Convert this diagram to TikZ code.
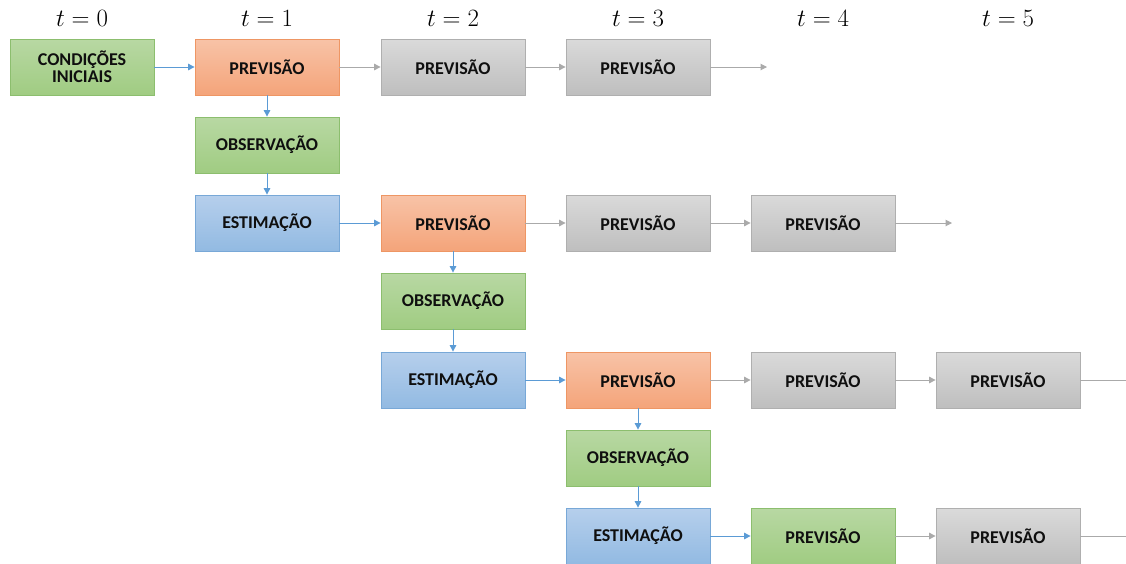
\documentclass[tikz,border=0pt]{standalone}
\usepackage{fontspec}
\setsansfont{Carlito}
\usetikzlibrary{arrows.meta}
\definecolor{gTop}{RGB}{184,216,163}
\definecolor{gBot}{RGB}{160,204,130}
\definecolor{gLine}{RGB}{140,190,110}
\definecolor{oTop}{RGB}{248,195,167}
\definecolor{oBot}{RGB}{244,164,122}
\definecolor{oLine}{RGB}{238,150,100}
\definecolor{bTop}{RGB}{182,207,236}
\definecolor{bBot}{RGB}{146,186,226}
\definecolor{bLine}{RGB}{120,168,215}
\definecolor{yTop}{RGB}{218,218,218}
\definecolor{yBot}{RGB}{190,190,190}
\definecolor{yLine}{RGB}{175,175,175}
\definecolor{arrBlue}{RGB}{91,155,213}
\definecolor{arrGray}{RGB}{170,170,170}
\definecolor{txt}{RGB}{15,15,15}
\begin{document}
\begin{tikzpicture}[x=1pt,y=-1pt,
  box/.style={minimum width=144pt,minimum height=56pt,inner sep=0pt,line width=0.8pt,
    align=center,font=\sffamily\bfseries\fontsize{18}{20}\selectfont,text=txt},
  gbox/.style={box,draw=gLine,top color=gTop,bottom color=gBot},
  obox/.style={box,draw=oLine,top color=oTop,bottom color=oBot},
  bbox/.style={box,draw=bLine,top color=bTop,bottom color=bBot},
  ybox/.style={box,draw=yLine,top color=yTop,bottom color=yBot},
  barr/.style={draw=arrBlue,line width=1pt,-{Triangle[width=6.5pt,length=6.5pt]}},
  garr/.style={draw=arrGray,line width=1pt,-{Triangle[width=6.5pt,length=6.5pt]}},
  gline/.style={draw=arrGray,line width=1pt},
  tlab/.style={font=\fontsize{25}{29}\selectfont,inner sep=0pt}]
\useasboundingbox (0,0) rectangle (1126,563);
% time labels
\node[tlab] (t0) at (82,18) {$t=0$};
\node[tlab] (t1) at (267,18) {$t=1$};
\node[tlab] (t2) at (453,18) {$t=2$};
\node[tlab] (t3) at (638,18) {$t=3$};
\node[tlab] (t4) at (823,18) {$t=4$};
\node[tlab] (t5) at (1008,18) {$t=5$};
% row 1
\node[gbox] (ci) at (82,67) {CONDIÇÕES\\[-3pt]INICIAIS};
\node[obox] (p11) at (267,67) {PREVISÃO};
\node[ybox] (p12) at (453,67) {PREVISÃO};
\node[ybox] (p13) at (638,67) {PREVISÃO};
\coordinate (e1) at (767,67);
\node[gbox] (o1) at (267,145) {OBSERVAÇÃO};
\node[bbox] (s1) at (267,223) {ESTIMAÇÃO};
% row 3
\node[obox] (p22) at (453,223) {PREVISÃO};
\node[ybox] (p23) at (638,223) {PREVISÃO};
\node[ybox] (p24) at (823,223) {PREVISÃO};
\coordinate (e2) at (952,223);
\node[gbox] (o2) at (453,301) {OBSERVAÇÃO};
\node[bbox] (s2) at (453,380) {ESTIMAÇÃO};
% row 5
\node[obox] (p33) at (638,380) {PREVISÃO};
\node[ybox] (p34) at (823,380) {PREVISÃO};
\node[ybox] (p35) at (1008,380) {PREVISÃO};
\coordinate (e3) at (1126,380);
\node[gbox] (o3) at (638,458) {OBSERVAÇÃO};
\node[bbox] (s3) at (638,536) {ESTIMAÇÃO};
% row 7
\node[gbox] (p44) at (823,536) {PREVISÃO};
\node[ybox] (p45) at (1008,536) {PREVISÃO};
\coordinate (e4) at (1126,536);
% connectors
\draw[barr] (ci) -- (p11);
\draw[garr] (p11) -- (p12);
\draw[garr] (p12) -- (p13);
\draw[garr] (p13) -- (e1);
\draw[barr] (p11) -- (o1);
\draw[barr] (o1) -- (s1);
\draw[barr] (s1) -- (p22);
\draw[garr] (p22) -- (p23);
\draw[garr] (p23) -- (p24);
\draw[garr] (p24) -- (e2);
\draw[barr] (p22) -- (o2);
\draw[barr] (o2) -- (s2);
\draw[barr] (s2) -- (p33);
\draw[garr] (p33) -- (p34);
\draw[garr] (p34) -- (p35);
\draw[gline] (p35) -- (e3);
\draw[barr] (p33) -- (o3);
\draw[barr] (o3) -- (s3);
\draw[barr] (s3) -- (p44);
\draw[garr] (p44) -- (p45);
\draw[gline] (p45) -- (e4);
\end{tikzpicture}
\end{document}
